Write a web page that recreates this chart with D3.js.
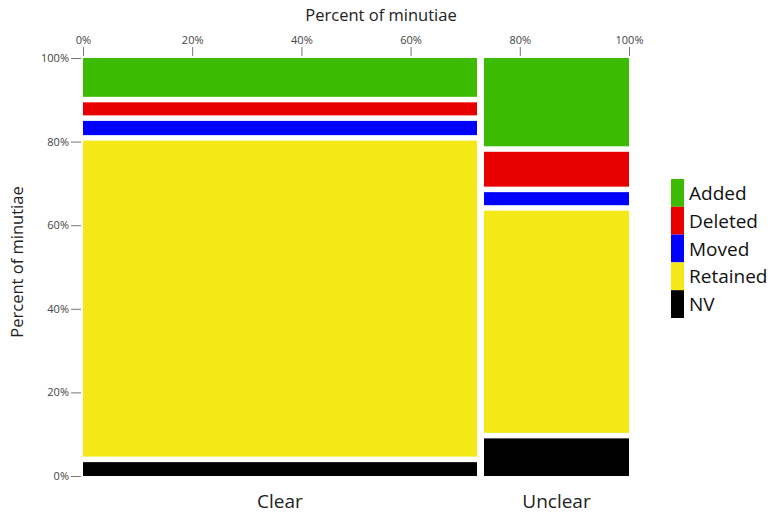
<!DOCTYPE html>
<html>
<head>
<meta charset="utf-8">
<script src="https://cdn.jsdelivr.net/npm/d3@7"></script>
<style>
  body { margin: 0; background: #fff; }
  text { font-family: "Open Sans", "Noto Sans", sans-serif; }
  .tick text { fill: #444; font-size: 11px; }
  .tick line { stroke: #777; }
</style>
</head>
<body>
<div id="chart"></div>
<script>
// Categories (columns) and their share of all minutiae
var columns = ["Clear", "Unclear"];
var columnShare = [73.1, 26.9];

// Outcome types, bottom to top
var outcomes = ["NV", "Retained", "Moved", "Deleted", "Added"];
var colors = ["#000000", "#f4e916", "#0000ff", "#e80000", "#3dbb00"];

// Percent of minutiae within each column, same order as outcomes
var clearValues = [3.5, 79.8, 3.6, 3.3, 9.8];
var unclearValues = [9.5, 56.1, 3.3, 8.8, 22.3];

var tickValues = [0, 20, 40, 60, 80, 100];

var width = 778, height = 516;
var margin = { top: 58, left: 83, right: 149, bottom: 40 };
var plotW = width - margin.left - margin.right;
var plotH = height - margin.top - margin.bottom;
var gapX = 7, gapY = 5.5;

var svg = d3.select("#chart").append("svg")
  .attr("width", width)
  .attr("height", height);

var g = svg.append("g")
  .attr("transform", "translate(" + margin.left + "," + margin.top + ")");

var x = d3.scaleLinear().domain([0, 100]).range([0, plotW]);
var y = d3.scaleLinear().domain([0, 100]).range([plotH, 0]);

// column scale: share of width available after gaps
var colW = d3.scaleLinear().domain([0, 100]).range([0, plotW - gapX * (columns.length - 1)]);
var colH = d3.scaleLinear().domain([0, 100]).range([0, plotH - gapY * (outcomes.length - 1)]);

var color = d3.scaleOrdinal().domain(outcomes).range(colors);

var allValues = [clearValues, unclearValues];

var x0 = 0;
columns.forEach(function(c, ci){
  var w = colW(columnShare[ci]);
  var yBase = plotH;
  var col = g.append("g").attr("class", "column");

  allValues[ci].forEach(function(v, oi){
    var h = colH(v);
    col.append("rect")
      .attr("x", x0)
      .attr("y", yBase - h)
      .attr("width", w)
      .attr("height", h)
      .attr("fill", color(outcomes[oi]));
    yBase -= h + gapY;
  });

  g.append("text")
    .attr("x", x0 + w / 2)
    .attr("y", plotH + 32)
    .attr("text-anchor", "middle")
    .attr("font-size", "19px")
    .attr("fill", "#222")
    .text(c);

  x0 += w + gapX;
});

// Axes
var xAxis = d3.axisTop(x).tickValues(tickValues).tickSize(9).tickPadding(3)
  .tickFormat(function(d){ return d + "%"; });
var yAxis = d3.axisLeft(y).tickValues(tickValues).tickSize(10).tickPadding(2)
  .tickFormat(function(d){ return d + "%"; });

g.append("g")
  .attr("class", "x-axis")
  .attr("transform", "translate(0,-2)")
  .call(xAxis)
  .call(function(s){ s.select(".domain").remove(); });

g.append("g")
  .attr("class", "y-axis")
  .attr("transform", "translate(-2,0)")
  .call(yAxis)
  .call(function(s){ s.select(".domain").remove(); });

// Axis titles
svg.append("text")
  .attr("x", 381)
  .attr("y", 21)
  .attr("text-anchor", "middle")
  .attr("font-size", "16.5px")
  .attr("fill", "#222")
  .text("Percent of minutiae");

svg.append("text")
  .attr("transform", "translate(23," + (margin.top + plotH / 2 - 5) + ")rotate(-90)")
  .attr("text-anchor", "middle")
  .attr("font-size", "16.5px")
  .attr("fill", "#222")
  .text("Percent of minutiae");

// Legend, top to bottom
var legendItems = outcomes.slice().reverse();
var legend = svg.append("g")
  .attr("transform", "translate(671,179)");

legend.selectAll("rect")
  .data(legendItems)
  .enter().append("rect")
  .attr("x", 0)
  .attr("y", function(d, i){ return i * 27.8; })
  .attr("width", 13)
  .attr("height", 27.8)
  .attr("fill", function(d){ return color(d); });

legend.selectAll("text")
  .data(legendItems)
  .enter().append("text")
  .attr("x", 18)
  .attr("y", function(d, i){ return i * 27.8 + 21; })
  .attr("font-size", "19px")
  .attr("fill", "#111")
  .text(function(d){ return d; });
</script>
</body>
</html>
